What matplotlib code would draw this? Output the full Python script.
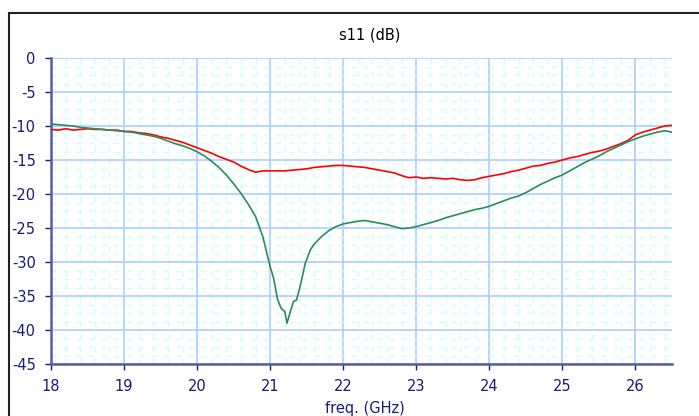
import matplotlib.pyplot as plt
from matplotlib.patches import Rectangle
from matplotlib.ticker import MultipleLocator

plt.rcParams['axes.unicode_minus'] = False

# s11 measurements, two samples
freq_red = [18.0, 18.1, 18.2, 18.3, 18.4, 18.5, 18.6, 18.7, 18.8, 18.9,
            19.0, 19.1, 19.2, 19.3, 19.4, 19.5, 19.6, 19.7, 19.8, 19.9,
            20.0, 20.1, 20.2, 20.3, 20.4, 20.5, 20.6, 20.7, 20.8, 20.9,
            21.0, 21.1, 21.2, 21.3, 21.4, 21.5, 21.6, 21.7, 21.8, 21.9,
            22.0, 22.1, 22.2, 22.3, 22.4, 22.5, 22.6, 22.7, 22.8, 22.9,
            23.0, 23.1, 23.2, 23.3, 23.4, 23.5, 23.6, 23.7, 23.8, 23.9,
            24.0, 24.1, 24.2, 24.3, 24.4, 24.5, 24.6, 24.7, 24.8, 24.9,
            25.0, 25.1, 25.2, 25.3, 25.4, 25.5, 25.6, 25.7, 25.8, 25.9,
            26.0, 26.1, 26.2, 26.3, 26.4, 26.5]
s11_red = [-10.5, -10.6, -10.4, -10.6, -10.5, -10.4, -10.5, -10.5, -10.6, -10.6,
           -10.8, -10.8, -11.0, -11.1, -11.3, -11.6, -11.8, -12.1, -12.4, -12.8,
           -13.2, -13.6, -14.0, -14.5, -14.9, -15.3, -15.9, -16.4, -16.8, -16.6,
           -16.6, -16.6, -16.6, -16.5, -16.4, -16.3, -16.1, -16.0, -15.9, -15.8,
           -15.8, -15.9, -16.0, -16.1, -16.3, -16.5, -16.7, -16.9, -17.3, -17.6,
           -17.5, -17.7, -17.6, -17.7, -17.8, -17.7, -17.9, -18.0, -17.9, -17.6,
           -17.4, -17.2, -17.0, -16.7, -16.5, -16.2, -15.9, -15.8, -15.5, -15.3,
           -15.0, -14.7, -14.5, -14.2, -13.9, -13.7, -13.4, -13.0, -12.6, -12.1,
           -11.3, -10.9, -10.6, -10.3, -10.0, -9.9]

freq_green = [18.0, 18.1, 18.2, 18.3, 18.4, 18.5, 18.6, 18.7, 18.8, 18.9,
              19.0, 19.1, 19.2, 19.3, 19.4, 19.5, 19.6, 19.7, 19.8, 19.9,
              20.0, 20.1, 20.2, 20.3, 20.4, 20.5, 20.6, 20.7, 20.8, 20.9,
              21.0, 21.05, 21.1, 21.15, 21.2, 21.23, 21.27, 21.32, 21.36, 21.41,
              21.48, 21.55, 21.6, 21.7, 21.8, 21.9,
              22.0, 22.1, 22.2, 22.3, 22.4, 22.5, 22.6, 22.7, 22.8, 22.9,
              23.0, 23.1, 23.2, 23.3, 23.4, 23.5, 23.6, 23.7, 23.8, 23.9,
              24.0, 24.1, 24.2, 24.3, 24.4, 24.5, 24.6, 24.7, 24.8, 24.9,
              25.0, 25.1, 25.2, 25.3, 25.4, 25.5, 25.6, 25.7, 25.8, 25.9,
              26.0, 26.1, 26.2, 26.3, 26.4, 26.5]
s11_green = [-9.7, -9.8, -9.9, -10.0, -10.2, -10.3, -10.4, -10.5, -10.6, -10.7,
             -10.8, -10.9, -11.1, -11.3, -11.5, -11.8, -12.2, -12.6, -12.9, -13.3,
             -13.8, -14.4, -15.2, -16.1, -17.2, -18.5, -19.9, -21.5, -23.3, -26.3,
             -30.7, -32.5, -35.5, -36.8, -37.3, -39.0, -37.5, -35.8, -35.6, -33.6,
             -30.2, -28.2, -27.4, -26.3, -25.4, -24.8,
             -24.4, -24.2, -24.0, -23.9, -24.1, -24.3, -24.5, -24.8, -25.1, -25.0,
             -24.8, -24.5, -24.2, -23.9, -23.5, -23.2, -22.9, -22.6, -22.3, -22.1,
             -21.8, -21.4, -21.0, -20.6, -20.3, -19.8, -19.2, -18.6, -18.1, -17.6,
             -17.2, -16.6, -16.0, -15.4, -14.9, -14.4, -13.8, -13.3, -12.8, -12.3,
             -11.9, -11.5, -11.2, -10.9, -10.7, -10.9]

navy = '#1a1a7a'

fig = plt.figure(figsize=(6.99, 4.16), dpi=100)
ax = fig.add_axes([51 / 699, 1 - 364 / 416, 621 / 699, 306 / 416])

# outer frame
fig.patches.append(Rectangle((9 / 699, -0.2), 1.2, 0.2 + 1 - 13 / 416, transform=fig.transFigure,
                             fill=False, edgecolor='#222222', linewidth=1.5, clip_on=False))

ax.plot(freq_red, s11_red, color='#ff0000', linewidth=1.2, zorder=3)
ax.plot(freq_green, s11_green, color='#2e8b57', linewidth=1.2, zorder=3)

ax.set_xlim(18, 26.5)
ax.set_ylim(-45, 0)
ax.xaxis.set_major_locator(MultipleLocator(1))
ax.yaxis.set_major_locator(MultipleLocator(5))
ax.xaxis.set_minor_locator(MultipleLocator(0.2))
ax.yaxis.set_minor_locator(MultipleLocator(1.25))

ax.grid(which='major', color='#a8d0ff', linewidth=1.2, zorder=1)
ax.grid(which='minor', color='#ccffff', linewidth=1.0, linestyle=(0, (4, 5)), zorder=0)
ax.set_axisbelow(True)

for s in ['top', 'right']:
    ax.spines[s].set_visible(False)
for s in ['left', 'bottom']:
    ax.spines[s].set_color('#5a5aa0')
    ax.spines[s].set_linewidth(1.8)

ax.tick_params(which='major', direction='out', length=4, width=1, color=navy,
               labelcolor=navy, labelsize=10.5, pad=7)
ax.tick_params(which='minor', length=0)

fig.text(370 / 699, 1 - 35 / 416, 's11 (dB)', ha='center', va='center', fontsize=10.5, color='black')
fig.text(365 / 699, 1 - 409 / 416, 'freq. (GHz)', ha='center', va='center', fontsize=10.5, color=navy)

fig.savefig('out.png', dpi=100)
